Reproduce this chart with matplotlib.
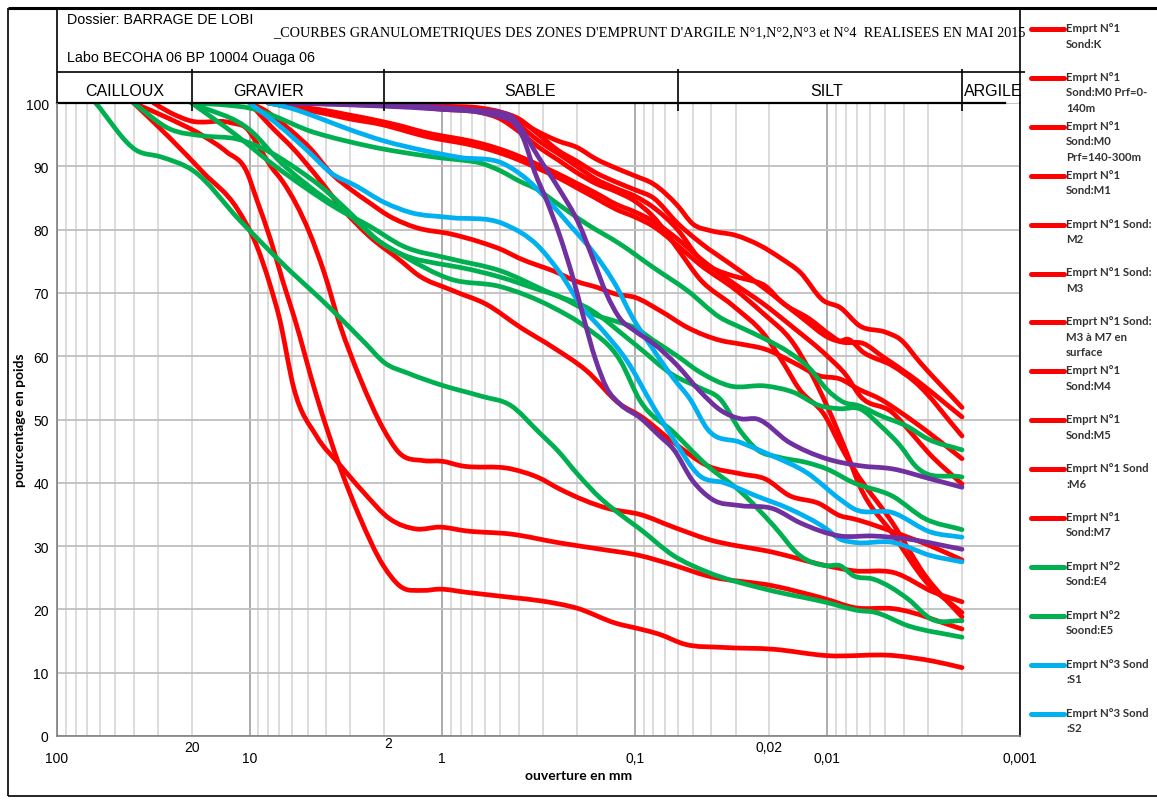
import numpy as np
import matplotlib.pyplot as plt
from matplotlib.path import Path
from matplotlib.patches import PathPatch
from matplotlib.lines import Line2D
from matplotlib.ticker import LogLocator, NullFormatter
from matplotlib.transforms import blended_transform_factory

plt.rcParams['font.family'] = ['Liberation Sans', 'DejaVu Sans']

# ouverture des tamis (mm) et pourcentage de passants, lus sur le graphique
# --- emprunt N°1 (rouge)
k_d = [5, 2, 1, 0.63, 0.5, 0.4, 0.315, 0.25, 0.2, 0.16, 0.125, 0.1, 0.08, 0.06, 0.05, 0.04, 0.03,
       0.0224, 0.0173, 0.0139, 0.0105, 0.0086, 0.0068, 0.005, 0.0042, 0.0033, 0.002]
k_p = [100, 99.7, 99.4, 99, 98.5, 97.2, 95.4, 94, 93, 91.2, 89.7, 88.5, 87.2, 83.8, 80.9, 79.8, 79.1,
       77.5, 75.4, 73.3, 68.8, 67.7, 64.8, 63.8, 62.7, 59, 51.9]

m0a_d = [4, 2, 1, 0.63, 0.5, 0.4, 0.315, 0.25, 0.2, 0.16, 0.125, 0.1, 0.08, 0.06, 0.046, 0.031, 0.021,
         0.014, 0.0095, 0.0083, 0.0065, 0.0052, 0.0037, 0.002]
m0a_p = [100, 99.8, 99.5, 99.2, 98.6, 97.5, 95, 92.5, 90.8, 89, 87.5, 86.3, 85, 81, 78, 74.3, 70.6,
         66.4, 62.7, 62.2, 62, 60, 56.9, 50.4]

m0b_d = [6.3, 2, 1, 0.63, 0.5, 0.4, 0.315, 0.25, 0.2, 0.16, 0.125, 0.1, 0.08, 0.06, 0.046, 0.031, 0.0268,
         0.021, 0.0172, 0.0124, 0.0095, 0.0086, 0.0079, 0.0065, 0.0046, 0.0035, 0.002]
m0b_p = [100, 99.6, 99.2, 98.8, 98.2, 96.5, 94, 92, 90, 88, 86.5, 85.3, 83.5, 80, 75.4, 72.7, 72.2,
         71.1, 68.5, 65.9, 63.2, 62.4, 62.7, 60.6, 58.5, 55.9, 47.4]

m1_d = [3.15, 2, 1, 0.63, 0.5, 0.4, 0.315, 0.25, 0.2, 0.16, 0.125, 0.1, 0.08, 0.06, 0.046, 0.031, 0.021,
        0.017, 0.014, 0.0103, 0.0086, 0.0073, 0.0046, 0.0031, 0.002]
m1_p = [100, 99.8, 99, 98.5, 97.5, 95.5, 93, 91, 89, 87.3, 86, 84.5, 82, 77, 72.2, 68, 63.2,
        59, 54.8, 50.6, 46, 42.2, 33.7, 25.3, 18.8]

m2_d = [8, 6.3, 4, 3.15, 2, 1.6, 1.25, 1, 0.8, 0.63, 0.5, 0.4, 0.315, 0.25, 0.2, 0.16, 0.125, 0.1, 0.08,
        0.06, 0.046, 0.03, 0.022, 0.015, 0.01, 0.008, 0.0068, 0.0046, 0.0037, 0.003, 0.002]
m2_p = [100, 99.6, 98.8, 98.2, 97, 96.3, 95.4, 94.8, 94.3, 93.6, 92.7, 91.6, 90.2, 88.8, 87.3, 85.8, 84, 82.8, 81.3,
        78.5, 75.5, 71.3, 68.5, 64.5, 60, 57, 53.8, 51.1, 48, 44.8, 39.8]

m3_d = [8, 6.3, 4, 3.15, 2, 1.6, 1.25, 1, 0.8, 0.63, 0.5, 0.4, 0.315, 0.25, 0.2, 0.16, 0.125, 0.1, 0.08,
        0.06, 0.046, 0.03, 0.022, 0.015, 0.012, 0.01, 0.008, 0.0068, 0.0046, 0.0031, 0.002]
m3_p = [100, 99.4, 98.3, 97.6, 96.5, 95.7, 94.8, 94.2, 93.7, 93, 92.1, 91, 89.6, 88.2, 86.6, 85, 83.2, 82, 80.5,
        77.5, 74.5, 70.5, 67, 62, 57, 52, 45, 39.5, 32, 24.5, 19.5]

surf_d = [10, 8.5, 6.3, 4.8, 3.8, 3, 2.4, 1.9, 1.36, 0.9, 0.63, 0.48, 0.4, 0.315, 0.266, 0.2, 0.158, 0.125,
          0.1, 0.074, 0.053, 0.036, 0.028, 0.021, 0.015, 0.011, 0.0086, 0.0069, 0.0053, 0.0042, 0.003, 0.002]
surf_p = [100, 99, 96, 92.7, 89, 86.4, 84.3, 82.2, 80.3, 79.3, 78, 76.7, 75.5, 74.3, 73.5, 71.8, 70.9, 69.8,
          69.3, 67.2, 64.5, 62.5, 61.9, 61.1, 59, 56.9, 56.4, 54.8, 53.2, 51.2, 48, 43.8]

m4_d = [10, 7.8, 5.9, 4.5, 3.3, 2.4, 1.6, 1.36, 0.87, 0.59, 0.39, 0.266, 0.178, 0.119, 0.094, 0.063,
        0.042, 0.028, 0.021, 0.0158, 0.011, 0.0086, 0.0073, 0.0045, 0.0029, 0.002]
m4_p = [100, 96.4, 92.7, 88.5, 83.3, 79, 74.8, 73, 70.3, 68.2, 64.5, 61.4, 57.7, 52.4, 50.6, 46.4,
        42.7, 41.4, 40.6, 38, 36.7, 34.8, 34.3, 32.2, 30, 27.8]

m5_d = [31.5, 25.9, 20.4, 12.6, 10.3, 8.8, 7.8, 6.7, 4.9, 4.1, 3.4, 2.66, 2.02, 1.68, 1.25, 1, 0.8, 0.44,
        0.315, 0.245, 0.136, 0.094, 0.063, 0.042, 0.019, 0.0101, 0.0073, 0.0045, 0.0028, 0.002]
m5_p = [100, 98.5, 97.2, 96.9, 95.9, 92.7, 90.1, 87.5, 79.6, 73.2, 65, 56.4, 48.5, 44.8, 43.5, 43.4, 42.7, 42.2,
        40.8, 39, 35.9, 35, 33, 31.1, 29, 26.9, 26.1, 25.8, 22.7, 21.2]

m6_d = [40, 26, 17.4, 11.6, 9.2, 7.8, 7, 5.9, 4.5, 3.37, 2.56, 1.87, 1.36, 1.03, 0.75, 0.44, 0.245, 0.15,
        0.094, 0.063, 0.042, 0.019, 0.0101, 0.0073, 0.0045, 0.002]
m6_p = [100, 94.5, 89, 83.3, 77.5, 71.1, 66, 55, 47.4, 42.7, 38.5, 34.3, 32.7, 33, 32.4, 31.9, 30.5, 29.5,
        28.5, 27, 25.3, 23.7, 21.6, 20.3, 20.1, 16.9]

m7_d = [40, 26, 17.4, 13.2, 10.3, 9.2, 7.8, 6.7, 5.9, 4.5, 3.37, 2.7, 2.02, 1.66, 1.26, 1.03, 0.75, 0.44,
        0.3, 0.2, 0.125, 0.094, 0.075, 0.055, 0.035, 0.019, 0.0101, 0.0045, 0.0028, 0.002]
m7_p = [100, 97.5, 94.8, 92.3, 89, 84.8, 78.5, 71.7, 66.4, 53.8, 42.2, 34.8, 26.9, 23.7, 23, 23.2, 22.7, 21.9,
        21.3, 20.2, 17.8, 16.9, 16.1, 14.5, 14, 13.7, 12.7, 12.7, 11.8, 10.8]

# --- emprunt N°2 (vert)
e4_d = [20, 12.5, 10, 8, 6.3, 5, 4, 3.15, 2.5, 2, 1.6, 1.25, 1, 0.8, 0.63, 0.5, 0.4, 0.315, 0.266, 0.178,
        0.119, 0.08, 0.053, 0.036, 0.028, 0.021, 0.0158, 0.0123, 0.0101, 0.0082, 0.0069, 0.0053, 0.0039,
        0.003, 0.002]
e4_p = [100, 99.6, 99.2, 98.3, 97, 95.7, 94.8, 94, 93.3, 92.7, 92.2, 91.7, 91.3, 91, 90.5, 89.3, 87.7, 86.2, 84.6, 80.9,
        77.7, 74, 70.3, 66.1, 64.5, 62.7, 60.6, 58, 54.8, 52.7, 52.2, 50.6, 49,
        46.9, 45.2]

e5_d = [40, 26, 17.4, 11.6, 7.8, 5.7, 4.3, 2.8, 2.2, 1.7, 0.91, 0.8, 0.5, 0.315, 0.25, 0.2, 0.16, 0.125,
        0.1, 0.08, 0.06, 0.046, 0.032, 0.021, 0.015, 0.011, 0.0086, 0.0068, 0.0053, 0.0042, 0.0035, 0.002]
e5_p = [100, 95.9, 94.8, 94.3, 92.2, 89.6, 86.9, 81.7, 78.5, 76.4, 74.3, 74, 72.5, 70.5, 69.5, 68, 66.5, 65.5,
        64.5, 62.5, 60, 57.5, 55.3, 55.3, 54.3, 52.2, 51.7, 51.7, 49, 45.9, 42.7, 40.9]

e6_d = [63, 38.6, 29, 19.6, 11.2, 7, 3.7, 2.5, 2, 1.5, 1, 0.63, 0.44, 0.315, 0.25, 0.2, 0.15, 0.125,
        0.094, 0.063, 0.042, 0.021, 0.0101, 0.0068, 0.0058, 0.0038, 0.002]
e6_p = [100, 92.5, 91.5, 89.3, 81.4, 75.1, 67.2, 62, 59, 57.3, 55.4, 53.7, 52.2, 48, 45, 41.5, 37.5, 35.5,
        32.7, 28.5, 25.9, 23.2, 21.1, 19.8, 19.6, 17.4, 15.6]

e7_d = [20, 11.6, 7.8, 5.3, 3.5, 2.4, 1.6, 0.91, 0.5, 0.266, 0.178, 0.1, 0.063, 0.046, 0.036, 0.028, 0.0233,
        0.0176, 0.0128, 0.0101, 0.0073, 0.0046, 0.0031, 0.002]
e7_p = [100, 94.8, 90.6, 86.9, 83.3, 80.6, 77.4, 75.4, 73.5, 69.8, 67.7, 61.9, 57, 55, 53.2, 48, 45.3,
        44, 43.2, 42.2, 40, 37.9, 34.3, 32.6]

e8_d = [20, 9.6, 7.2, 4, 3, 2.2, 1.6, 0.91, 0.5, 0.266, 0.178, 0.119, 0.094, 0.063, 0.042, 0.028, 0.019,
        0.0139, 0.0101, 0.0086, 0.0073, 0.0058, 0.0038, 0.0029, 0.002]
e8_p = [100, 95.3, 91.2, 84.8, 82.2, 78.5, 75.9, 72.2, 71, 67.7, 64.5, 59.3, 53, 48, 42.7, 38.5, 33.2,
        28.5, 26.9, 26.9, 25.3, 24.8, 21.6, 18.5, 18.2]

# --- emprunt N°3 (bleu)
s1_d = [8, 6.3, 5, 4, 3.15, 2, 1.25, 0.81, 0.48, 0.365, 0.286, 0.216, 0.164, 0.125, 0.104, 0.08, 0.063,
        0.0516, 0.042, 0.0284, 0.0191, 0.0128, 0.0086, 0.0073, 0.0046, 0.0029, 0.002]
s1_p = [100, 99.3, 98.3, 97.2, 96, 94, 92.5, 91.4, 90.4, 88, 84.8, 80.6, 76.4, 71.1, 66.4, 61, 56.5,
        53.2, 48.5, 46.4, 44.2, 41.6, 37.4, 35.9, 35.3, 32.2, 31.4]

s2_d = [10, 7, 4.9, 3.8, 2.8, 2, 1.46, 0.91, 0.48, 0.32, 0.245, 0.185, 0.146, 0.11, 0.08, 0.063, 0.046,
        0.0343, 0.0233, 0.0158, 0.0101, 0.0086, 0.0073, 0.0046, 0.0029, 0.002]
s2_p = [100, 96.4, 92.2, 89, 86.9, 84.3, 82.7, 81.9, 80.9, 77.5, 73.2, 67.5, 64, 59.3, 52, 46.9, 41.1,
        40, 37.9, 35.9, 32.7, 31.1, 30.6, 30.6, 28.5, 27.5]

# --- emprunt N°4 (violet)
n4a_d = [6.3, 2, 1, 0.63, 0.5, 0.43, 0.38, 0.33, 0.286, 0.245, 0.21, 0.186, 0.16, 0.14, 0.119, 0.094,
         0.075, 0.063, 0.05, 0.0397, 0.0284, 0.0191, 0.0139, 0.0086, 0.0058, 0.0038, 0.002]
n4a_p = [100, 99.5, 99, 98.5, 97.8, 97, 94.5, 89, 84.5, 79, 72.5, 66.5, 59.5, 55, 52.4, 50.3,
         47.5, 45.3, 40.3, 37.4, 36.4, 35.9, 33.7, 31.6, 31.6, 31.1, 29.5]

n4b_d = [6.3, 2, 1, 0.63, 0.5, 0.43, 0.38, 0.32, 0.253, 0.193, 0.165, 0.141, 0.119, 0.1, 0.08, 0.06,
         0.046, 0.036, 0.028, 0.0233, 0.0158, 0.0101, 0.0068, 0.0046, 0.0029, 0.002]
n4b_p = [100, 99.7, 99.3, 98.8, 98.5, 97.7, 95.5, 91.7, 86.9, 80.6, 75.4, 70, 65.9, 64, 62, 58.5,
         54.5, 51.5, 50.1, 50.1, 46.4, 43.8, 42.7, 42.2, 40.6, 39.3]

RED, GREEN, BLUE, PURPLE = '#FF0000', '#00B050', '#00B0F0', '#7030A0'

legend_labels = ["Emprt N°1\nSond:K", "Emprt N°1\nSond:M0 Prf=0-\n140m", "Emprt N°1\nSond:M0\nPrf=140-300m",
                 "Emprt N°1\nSond:M1", "Emprt N°1 Sond:\nM2", "Emprt N°1 Sond:\nM3",
                 "Emprt N°1 Sond:\nM3 à M7 en\nsurface", "Emprt N°1\nSond:M4", "Emprt N°1\nSond:M5",
                 "Emprt N°1 Sond\n:M6", "Emprt N°1\nSond:M7", "Emprt N°2\nSond:E4", "Emprt N°2\nSoond:E5",
                 "Emprt N°3 Sond\n:S1", "Emprt N°3 Sond\n:S2"]
legend_colors = [RED] * 11 + [GREEN] * 2 + [BLUE] * 2

classes = ['CAILLOUX', 'GRAVIER', 'SABLE', 'SILT', 'ARGILE']
class_limits = [20, 2, 0.06, 0.002]

curves = [(k_d, k_p, RED), (m0a_d, m0a_p, RED), (m0b_d, m0b_p, RED), (m1_d, m1_p, RED),
          (m2_d, m2_p, RED), (m3_d, m3_p, RED), (surf_d, surf_p, RED), (m4_d, m4_p, RED),
          (m5_d, m5_p, RED), (m6_d, m6_p, RED), (m7_d, m7_p, RED),
          (e4_d, e4_p, GREEN), (e5_d, e5_p, GREEN), (e6_d, e6_p, GREEN), (e7_d, e7_p, GREEN),
          (e8_d, e8_p, GREEN), (s1_d, s1_p, BLUE), (s2_d, s2_p, BLUE),
          (n4a_d, n4a_p, PURPLE), (n4b_d, n4b_p, PURPLE)]


def courbe_lissee(d, p):
    # courbe de Bezier passant par les points (comme le lissage d'Excel), en echelle log
    u = -np.log10(np.asarray(d, float))
    v = np.asarray(p, float)
    h = np.diff(u)
    s = np.diff(v) / h
    m = np.empty(len(u))
    # derivee de la parabole passant par trois points voisins
    m[1:-1] = (h[1:] * s[:-1] + h[:-1] * s[1:]) / (h[:-1] + h[1:])
    m[0] = s[0]
    m[-1] = s[-1]
    verts = [(u[0], v[0])]
    codes = [Path.MOVETO]
    for i in range(len(u) - 1):
        verts += [(u[i] + h[i] / 3, v[i] + m[i] * h[i] / 3),
                  (u[i + 1] - h[i] / 3, v[i + 1] - m[i + 1] * h[i] / 3),
                  (u[i + 1], v[i + 1])]
        codes += [Path.CURVE4] * 3
    verts = np.array(verts)
    verts[:, 0] = 10 ** (-verts[:, 0])
    return Path(verts, codes)


W, H = 1157, 803
fig = plt.figure(figsize=(W / 100, H / 100), dpi=100)


def fx(px):
    return px / W


def fy(py):
    return 1 - py / H


ax = fig.add_axes([fx(57), fy(737), fx(1020) - fx(57), fy(104) - fy(737)])
ax.set_xscale('log')
ax.set_xlim(100, 0.001)
ax.set_ylim(0, 100)

ax.set_xticks([100, 10, 1, 0.1, 0.01, 0.001])
ax.set_xticklabels(['100', '10', '1', '0,1', '0,01', '0,001'])
ax.xaxis.set_minor_locator(LogLocator(base=10, subs=np.arange(2, 10) * 1.0, numticks=50))
ax.xaxis.set_minor_formatter(NullFormatter())
ax.set_yticks(range(0, 101, 10))
ax.tick_params(axis='x', which='both', length=0, pad=11, labelsize=10)
ax.tick_params(axis='y', length=0, pad=6, labelsize=10)
ax.grid(True, which='major', axis='y', color='#BFBFBF', lw=1.3)
ax.grid(True, which='major', axis='x', color='#A6A6A6', lw=1.3)
ax.grid(True, which='minor', axis='x', color='#D9D9D9', lw=1.3)
ax.set_axisbelow(True)
ax.spines['top'].set_visible(False)
ax.spines['left'].set_color('#808080')
ax.spines['bottom'].set_color('#808080')
ax.spines['right'].set_color('black')
for s in ['left', 'bottom', 'right']:
    ax.spines[s].set_linewidth(1.2)

for d, p, c in curves:
    ax.add_patch(PathPatch(courbe_lissee(d, p), fill=False, edgecolor=c, lw=3.4,
                           capstyle='round', joinstyle='round'))

# ligne 100 % et separations des classes granulaires
ax.plot([100, 0.0012], [100, 100], color='black', lw=1.6, clip_on=False)
ax.vlines(class_limits, 98.7, 105.4, colors='black', lw=1.2, clip_on=False)

# graduations supplementaires
tr = blended_transform_factory(ax.transData, fig.transFigure)
ax.text(20, fy(748), '20', transform=tr, ha='center', va='center', fontsize=10)
ax.text(2, fy(744), '2', transform=tr, ha='left', va='center', fontsize=10)
ax.text(0.02, fy(748), '0,02', transform=tr, ha='center', va='center', fontsize=10)

ax.set_xlabel('ouverture en mm', family=['Lato', 'DejaVu Sans'], fontweight='bold', fontsize=10)
ax.xaxis.set_label_coords(0.5, fy(770), transform=fig.transFigure)
fig.text(fx(20), fy(420), 'pourcentage en poids', family=['Lato', 'DejaVu Sans'], fontweight='bold',
         fontsize=10, rotation=90, ha='center', va='center')


# cadre et cartouche
def trait(x0, y0, x1, y1, lw=1.2, c='black'):
    fig.add_artist(Line2D([fx(x0), fx(x1)], [fy(y0), fy(y1)], transform=fig.transFigure,
                          color=c, lw=lw, solid_capstyle='butt'))


trait(8, 9, W, 9, lw=2.2)
trait(8, 9, 8, 797, lw=1.2)
trait(8, 797, W, 797, lw=1.2)
trait(57, 9, 57, 104)
trait(1020, 9, 1020, 104)
trait(57, 73, 1025, 73)

fig.text(fx(67), fy(20), 'Dossier: BARRAGE DE LOBI', fontsize=10.3, va='center')
fig.text(fx(67), fy(58), 'Labo BECOHA 06 BP 10004 Ouaga 06', fontsize=10.3, va='center')
fig.text(fx(273), fy(33),
         "_COURBES GRANULOMETRIQUES DES ZONES D'EMPRUNT D'ARGILE N°1,N°2,N°3 et N°4  REALISEES EN MAI 2015",
         family=['Liberation Serif', 'DejaVu Serif'], fontsize=10.3, va='center')
for name, xc in zip(classes, [125, 269, 530, 827, 993]):
    fig.text(fx(xc), fy(91), name, fontsize=11.5, ha='center', va='center')

# legende
for i, (lab, col) in enumerate(zip(legend_labels, legend_colors)):
    y = 30 + 48.9 * i
    fig.add_artist(Line2D([fx(1031), fx(1064)], [fy(y), fy(y)], transform=fig.transFigure,
                          color=col, lw=3.6, solid_capstyle='round'))
    fig.text(fx(1066), fy(y - 7), lab, family=['Lato', 'DejaVu Sans'], fontweight='bold',
             fontsize=8.2, color='#333333', va='top', ha='left', linespacing=1.5)

fig.savefig('out.png', dpi=100)
